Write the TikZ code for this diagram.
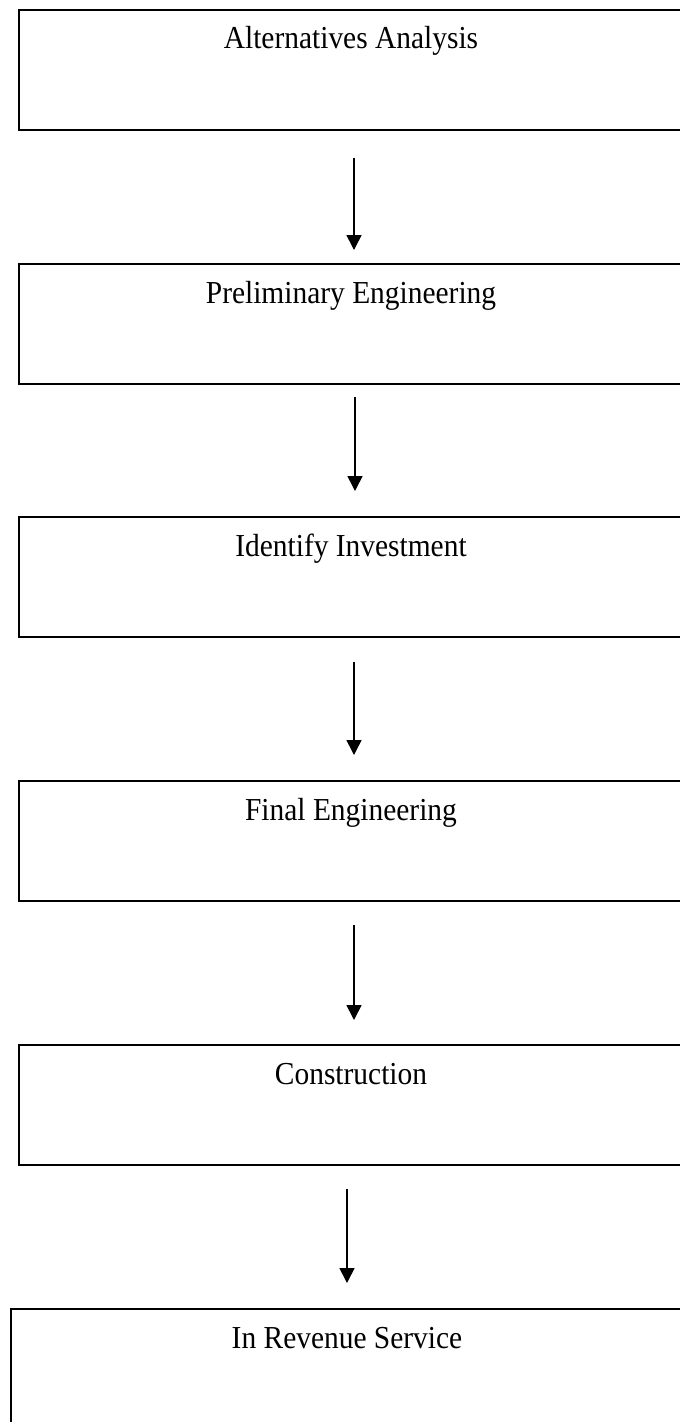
\documentclass[tikz,border=0pt]{standalone}
\usepackage{fontspec}
\setmainfont{Liberation Serif}[FakeStretch=0.92]
\usetikzlibrary{arrows.meta,calc}

\tikzset{
  stage/.style={draw=black, line width=2pt, rectangle, inner sep=0pt,
    anchor=north west, minimum width=664pt,
    text height=39pt, text depth=81pt,
    font=\fontsize{32}{38}\selectfont},
  flow/.style={draw=black, line width=1.6pt,
    -{Triangle[length=15pt,width=15pt]}}
}

\begin{document}
\begin{tikzpicture}[x=1pt,y=-1pt]
  \useasboundingbox (0,0) rectangle (680,1422);
  \clip (0,0) rectangle (680,1422);

  % project stages, top to bottom
  \node[stage] (b1) at (18,8.5)  {Alternatives Analysis};
  \node[stage] (b2) at (18,263)  {Preliminary Engineering};
  \node[stage] (b3) at (18,516)  {Identify Investment};
  \node[stage] (b4) at (18,780)  {Final Engineering};
  \node[stage] (b5) at (18,1044) {Construction};
  \node[stage, minimum width=672pt] (b6) at (10,1308) {In Revenue Service};

  % arrows between consecutive stages
  \draw[flow] ($(b1.south)+(3,27)$) -- ($(b2.north)+(3,-13)$);
  \draw[flow] ($(b2.south)+(4,12)$) -- ($(b3.north)+(4,-25)$);
  \draw[flow] ($(b3.south)+(3,24)$) -- ($(b4.north)+(3,-25)$);
  \draw[flow] ($(b4.south)+(3,23)$) -- ($(b5.north)+(3,-24)$);
  \draw[flow] ($(b5.south)+(-4,23)$) -- ($(b6.north)+(0,-25)$);
\end{tikzpicture}
\end{document}
